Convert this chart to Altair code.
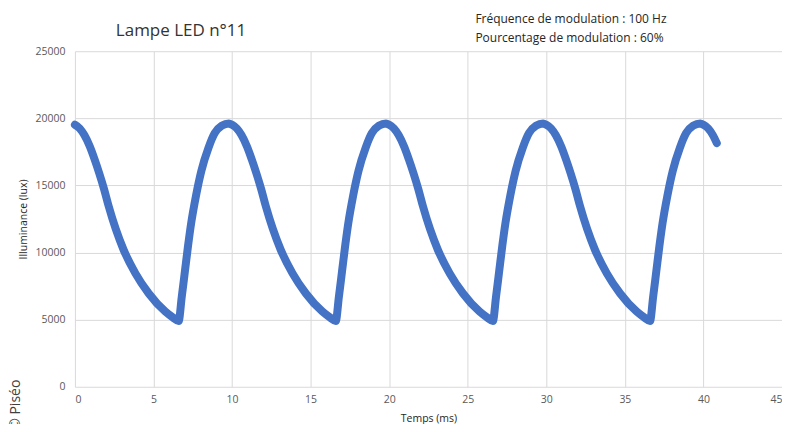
import altair as alt
import pandas as pd

# Illuminance readings (lux) vs time (ms)
time_ms = [
    0.0, 0.3, 0.6, 0.95, 1.25, 1.55, 1.85, 2.15, 2.6, 3.1, 3.85, 4.7, 5.75, 6.25, 6.6,
    6.8, 7.0, 7.2, 7.4, 7.7, 8.05, 8.5, 8.9, 9.35, 9.8,
    10.0, 10.3, 10.6, 10.95, 11.25, 11.55, 11.85, 12.15, 12.6, 13.1, 13.85, 14.7, 15.75, 16.25, 16.6,
    16.8, 17.0, 17.2, 17.4, 17.7, 18.05, 18.5, 18.9, 19.35, 19.8,
    20.0, 20.3, 20.6, 20.95, 21.25, 21.55, 21.85, 22.15, 22.6, 23.1, 23.85, 24.7, 25.75, 26.25, 26.6,
    26.8, 27.0, 27.2, 27.4, 27.7, 28.05, 28.5, 28.9, 29.35, 29.8,
    30.0, 30.3, 30.6, 30.95, 31.25, 31.55, 31.85, 32.15, 32.6, 33.1, 33.85, 34.7, 35.75, 36.25, 36.6,
    36.8, 37.0, 37.2, 37.4, 37.7, 38.05, 38.5, 38.9, 39.35, 39.8,
    40.0, 40.3, 40.6, 40.85,
]
lux = [
    19520, 19250, 18750, 17900, 16950, 15900, 14750, 13450, 11750, 10200, 8450, 6950, 5600, 5150, 4900,
    6700, 8600, 10500, 12200, 14200, 16100, 17800, 18900, 19450, 19620,
    19520, 19250, 18750, 17900, 16950, 15900, 14750, 13450, 11750, 10200, 8450, 6950, 5600, 5150, 4900,
    6700, 8600, 10500, 12200, 14200, 16100, 17800, 18900, 19450, 19620,
    19520, 19250, 18750, 17900, 16950, 15900, 14750, 13450, 11750, 10200, 8450, 6950, 5600, 5150, 4900,
    6700, 8600, 10500, 12200, 14200, 16100, 17800, 18900, 19450, 19620,
    19520, 19250, 18750, 17900, 16950, 15900, 14750, 13450, 11750, 10200, 8450, 6950, 5600, 5150, 4900,
    6700, 8600, 10500, 12200, 14200, 16100, 17800, 18900, 19450, 19620,
    19520, 19250, 18750, 18150,
]

x_ticks = [0, 5, 10, 15, 20, 25, 30, 35, 40, 45]
y_ticks = [0, 5000, 10000, 15000, 20000, 25000]

title_text = "Lampe LED n°11"
note_lines = ["Fréquence de modulation : 100 Hz", "Pourcentage de modulation : 60%"]
credit = "© Piséo"

df = pd.DataFrame({"t": time_ms, "lux": lux})
FONT = "Open Sans"

line = alt.Chart(df).mark_line(
    color="#4472C4", strokeWidth=8, strokeCap="round", strokeJoin="round",
    interpolate="monotone",
).encode(
    x=alt.X("t:Q", scale=alt.Scale(domain=[0, 45], nice=False),
            axis=alt.Axis(values=x_ticks, title="Temps (ms)", labelPadding=8,
                          titlePadding=8)),
    y=alt.Y("lux:Q", scale=alt.Scale(domain=[0, 25000], nice=False),
            axis=alt.Axis(values=y_ticks, format="d", title="Illuminance (lux)",
                          labelPadding=10, titlePadding=6)),
)

title_mark = alt.Chart(pd.DataFrame({"s": [title_text]})).mark_text(
    align="left", baseline="middle", fontSize=17, font=FONT, color="#333333"
).encode(text="s:N", x=alt.value(41), y=alt.value(-20))

note1 = alt.Chart(pd.DataFrame({"s": [note_lines[0]]})).mark_text(
    align="left", baseline="middle", fontSize=12, font=FONT, color="#262626"
).encode(text="s:N", x=alt.value(401), y=alt.value(-32))

note2 = alt.Chart(pd.DataFrame({"s": [note_lines[1]]})).mark_text(
    align="left", baseline="middle", fontSize=12, font=FONT, color="#262626"
).encode(text="s:N", x=alt.value(401), y=alt.value(-13))

credit_mark = alt.Chart(pd.DataFrame({"s": [credit]})).mark_text(
    align="center", baseline="middle", fontSize=14, font=FONT, color="#404040", angle=270
).encode(text="s:N", x=alt.value(-59), y=alt.value(354))

chart = alt.layer(line, title_mark, note1, note2, credit_mark).properties(
    width=708, height=336,
    autosize=alt.AutoSizeParams(type="none"),
    padding={"left": 67, "top": 43, "right": 0, "bottom": 37},
).configure_view(stroke=None).configure_axis(
    grid=True, gridColor="#d9d9d9", gridWidth=1, domain=False, ticks=False,
    labelFont=FONT, labelFontSize=10.5, labelColor="#595959",
    titleFont=FONT, titleFontSize=10.5, titleColor="#262626", titleFontWeight="normal",
)

chart.save("out.html", embed_options={"renderer": "svg", "actions": False})
